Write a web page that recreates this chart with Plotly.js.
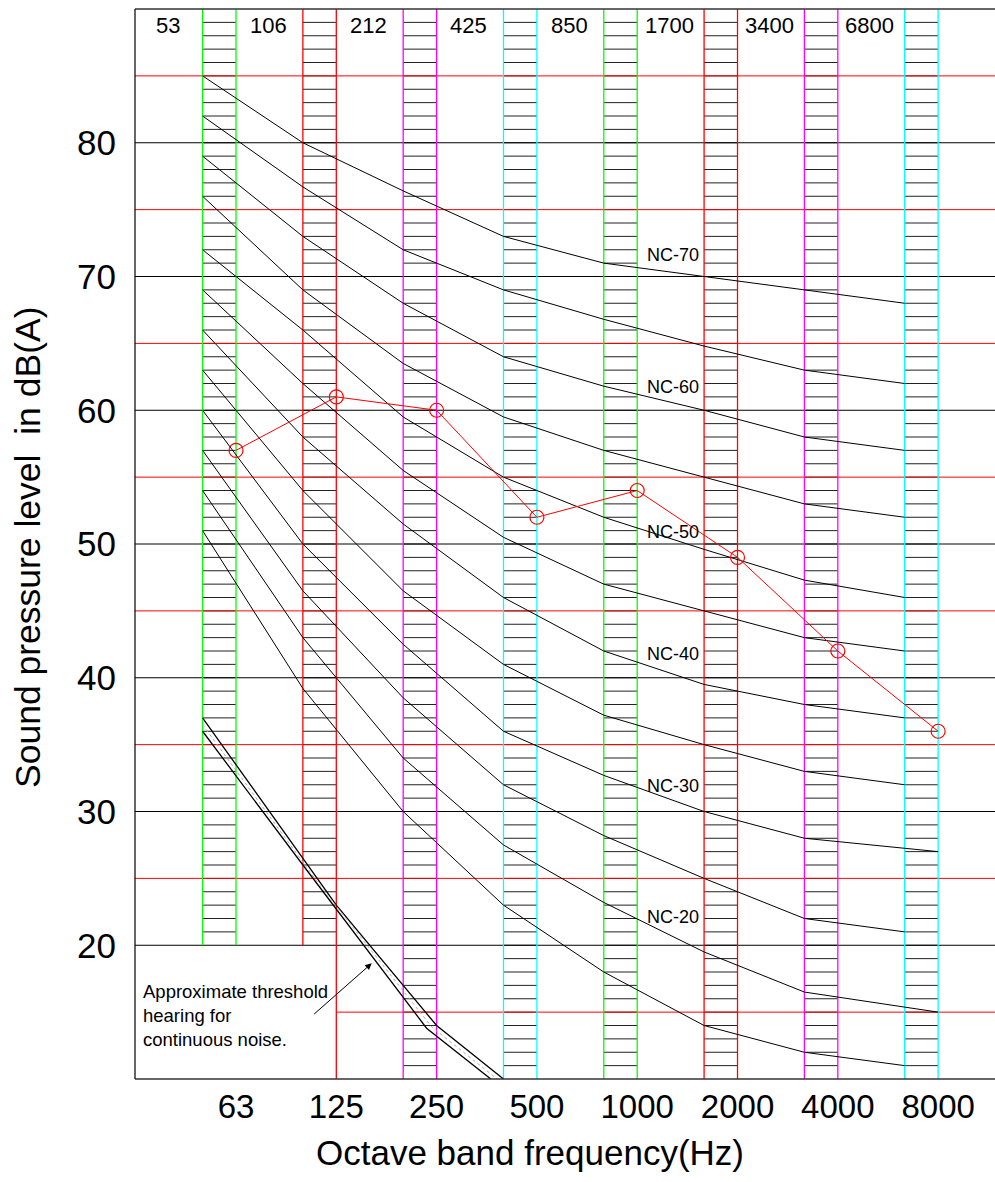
<!DOCTYPE html>
<html><head><meta charset="utf-8">
<script src="https://cdn.plot.ly/plotly-3.0.1.min.js"></script>
<style>html,body{margin:0;padding:0;background:#fff}#chart{width:995px;height:1182px}</style>
</head><body><div id="chart"></div>
<script>
// ---- data ----
const bands = ['63','125','250','500','1000','2000','4000','8000'];
const bandEdgeLabels = ['53','106','212','425','850','1700','3400','6800'];
const ncNames = ['NC-70','NC-65','NC-60','NC-55','NC-50','NC-45','NC-40','NC-35','NC-30','NC-25','NC-20','NC-15'];
const nc70 = [85, 80, 76.4, 73, 71, 70, 69, 68];
const nc65 = [82, 76.7, 72, 69, 66.8, 64.8, 63, 62];
const nc60 = [79, 73, 68, 64, 61.8, 60, 58, 57];
const nc55 = [76, 69, 63.5, 59.5, 57, 55, 53, 52];
const nc50 = [72, 66, 59.5, 55, 52, 49.6, 47.3, 46];
const nc45 = [69, 62, 55.5, 50.5, 47, 45, 43, 42];
const nc40 = [66, 58, 51.5, 46, 42, 39.5, 38, 37];
const nc35 = [63, 54, 46.5, 41, 37.2, 35, 33, 32];
const nc30 = [60, 50, 42.5, 36, 32.7, 30, 28, 27];
const nc25 = [57, 46.5, 38.5, 32, 28.2, 25, 22, 21];
const nc20 = [54, 43, 34, 27.5, 23.2, 19.5, 16.5, 15];
const nc15 = [51, 39.2, 30, 23, 18, 14, 12, 11];
const ncCurves = [nc70, nc65, nc60, nc55, nc50, nc45, nc40, nc35, nc30, nc25, nc20, nc15];
const ncEndsAtCentre = ['NC-30', 'NC-20'];
const ncLabelled = ['NC-70','NC-60','NC-50','NC-40','NC-30','NC-20'];
const ncLabelY = [71.6, 61.75, 50.93, 41.78, 31.91, 22.1];
const measured = [57, 61, 60, 52, 54, 49, 42, 36];
const thresholdUpperBand = [-1/3, 1, 2, 2.667];
const thresholdUpper = [37, 23, 14, 10];
const thresholdLowerBand = [-1/3, 2/3, 1.9, 2.54];
const thresholdLower = [36, 26, 13.8, 10];
const thresholdText = 'Approximate threshold<br>hearing for<br>continuous noise.';
const yTicks = [20, 30, 40, 50, 60, 70, 80];
const redLevels = [25, 35, 45, 55, 65, 75, 85];

// ---- geometry helpers (not data) ----
const XMIN = -1.007, XMAX = 7.567, YMIN = 10, YMAX = 90;
const STRIP = 1/3;
const F = 'Liberation Sans, Arial, sans-serif';
const stripColors = ['#00ff00', '#ff0000', '#ff00ff', '#00ffff'];

function segs(list) { // list of [x0,y0,x1,y1]
  const x = [], y = [];
  list.forEach(s => { x.push(s[0], s[2], null); y.push(s[1], s[3], null); });
  return {x, y};
}
const traces = [];

// hatch lines in the strips
const hatch = [];
bands.forEach((b, k) => {
  const lo = k < 2 ? 21 : 11;
  for (let v = lo; v <= 89; v++) hatch.push([k - STRIP, v, k, v]);
});
let s = segs(hatch);
traces.push({x: s.x, y: s.y, mode: 'lines', line: {color: '#222', width: 1}, hoverinfo: 'skip', showlegend: false});

// horizontal grid: black
s = segs(yTicks.map(v => [XMIN, v, XMAX, v]));
traces.push({x: s.x, y: s.y, mode: 'lines', line: {color: '#000', width: 1}, hoverinfo: 'skip', showlegend: false});
// red grid
const redSegs = redLevels.map(v => [XMIN, v, XMAX, v]);
redSegs.push([1, 15, XMAX, 15]);
s = segs(redSegs);
traces.push({x: s.x, y: s.y, mode: 'lines', line: {color: '#ff0000', width: 1}, hoverinfo: 'skip', showlegend: false});

// vertical strip edges
bands.forEach((b, k) => {
  const c = stripColors[k % 4];
  const leftLo = k < 2 ? 20 : YMIN;
  const rightLo = k < 1 ? 20 : YMIN;
  const sg = segs([[k - STRIP, leftLo, k - STRIP, YMAX], [k, rightLo, k, YMAX]]);
  traces.push({x: sg.x, y: sg.y, mode: 'lines', line: {color: c, width: 1.3}, hoverinfo: 'skip', showlegend: false});
});

// NC curves
ncCurves.forEach((vals, i) => {
  const xs = vals.map((v, k) => k - STRIP);
  if (ncEndsAtCentre.includes(ncNames[i])) xs[xs.length - 1] = bands.length - 1;
  traces.push({x: xs, y: vals, mode: 'lines', name: ncNames[i], line: {color: '#000', width: 1}, showlegend: false});
});

// threshold band
traces.push({x: thresholdUpperBand, y: thresholdUpper, mode: 'lines', line: {color: '#000', width: 1.3}, showlegend: false, hoverinfo: 'skip'});
traces.push({x: thresholdLowerBand, y: thresholdLower, mode: 'lines', line: {color: '#000', width: 1.3}, showlegend: false, hoverinfo: 'skip'});
traces.push({x: thresholdUpperBand.map((v, i) => (v + thresholdLowerBand[i]) / 2),
             y: thresholdUpper.map((v, i) => (v + thresholdLower[i]) / 2),
             mode: 'lines', line: {color: '#aaa', width: 1, dash: 'dot'}, showlegend: false, hoverinfo: 'skip'});

// measured spectrum
traces.push({x: bands.map((b, k) => k), y: measured, mode: 'lines+markers', name: 'Measured',
  line: {color: '#ff0000', width: 1},
  marker: {symbol: 'circle-open', size: 14, color: '#ff0000', line: {width: 1.2, color: '#ff0000'}},
  showlegend: false});

// annotations
const ann = [];
ncLabelled.forEach((n, i) => ann.push({x: 4.357, y: ncLabelY[i], xref: 'x', yref: 'y', text: n, showarrow: false,
  font: {family: F, size: 18, color: '#000'}, xanchor: 'center', yanchor: 'middle'}));
bandEdgeLabels.forEach((t, i) => ann.push({x: i - 1 + 0.32, y: 88.8, xref: 'x', yref: 'y', text: t, showarrow: false,
  font: {family: F, size: 22, color: '#000'}, xanchor: 'center', yanchor: 'middle'}));
ann.push({x: -0.95, y: 14.78, xref: 'x', yref: 'y', text: thresholdText, showarrow: false, align: 'left',
  font: {family: F, size: 18.5, color: '#000'}, xanchor: 'left', yanchor: 'middle'});
ann.push({x: 1.353, y: 18.65, xref: 'x', yref: 'y', text: '', showarrow: true, ax: -59, ay: 52,
  arrowhead: 2, arrowsize: 1.3, arrowwidth: 1, arrowcolor: '#000', standoff: 0});
ann.push({x: (530 - 135) / 860, y: (1079 - 1152) / 1070, xref: 'paper', yref: 'paper', text: 'Octave band frequency(Hz)', showarrow: false,
  font: {family: F, size: 35, color: '#000'}, xanchor: 'center', yanchor: 'middle'});
ann.push({x: -0.1244, y: (1079 - 548) / 1070, xref: 'paper', yref: 'paper', text: 'Sound pressure level\u00a0 in dB(A)', showarrow: false,
  textangle: -90, font: {family: F, size: 35.5, color: '#000'}, xanchor: 'center', yanchor: 'middle'});

const layout = {
  width: 995, height: 1182,
  margin: {l: 135, r: 0, t: 9, b: 103, pad: 0},
  paper_bgcolor: '#fff', plot_bgcolor: '#fff',
  showlegend: false,
  xaxis: {range: [XMIN, XMAX], tickvals: bands.map((b, k) => k), ticktext: bands, showgrid: false, zeroline: false,
    showline: false, ticks: '', tickfont: {family: F, size: 33, color: '#000'}, ticklabelstandoff: 5, fixedrange: true},
  yaxis: {range: [YMIN, YMAX], tickvals: yTicks, ticktext: yTicks.map(String), showgrid: false, zeroline: false,
    showline: false, ticks: '', tickfont: {family: F, size: 35, color: '#000'}, ticklabelstandoff: 18, fixedrange: true},
  shapes: [
    {type: 'line', xref: 'paper', yref: 'paper', x0: 0, x1: 1, y0: 1, y1: 1, line: {color: '#333', width: 1.5}},
    {type: 'line', xref: 'paper', yref: 'paper', x0: 0, x1: 1, y0: 0, y1: 0, line: {color: '#333', width: 1.5}},
    {type: 'line', xref: 'paper', yref: 'paper', x0: 0, x1: 0, y0: 0, y1: 1, line: {color: '#000', width: 1.2}}
  ],
  annotations: ann
};
Plotly.newPlot('chart', traces, layout, {displayModeBar: false, staticPlot: true});
</script>
</body></html>
